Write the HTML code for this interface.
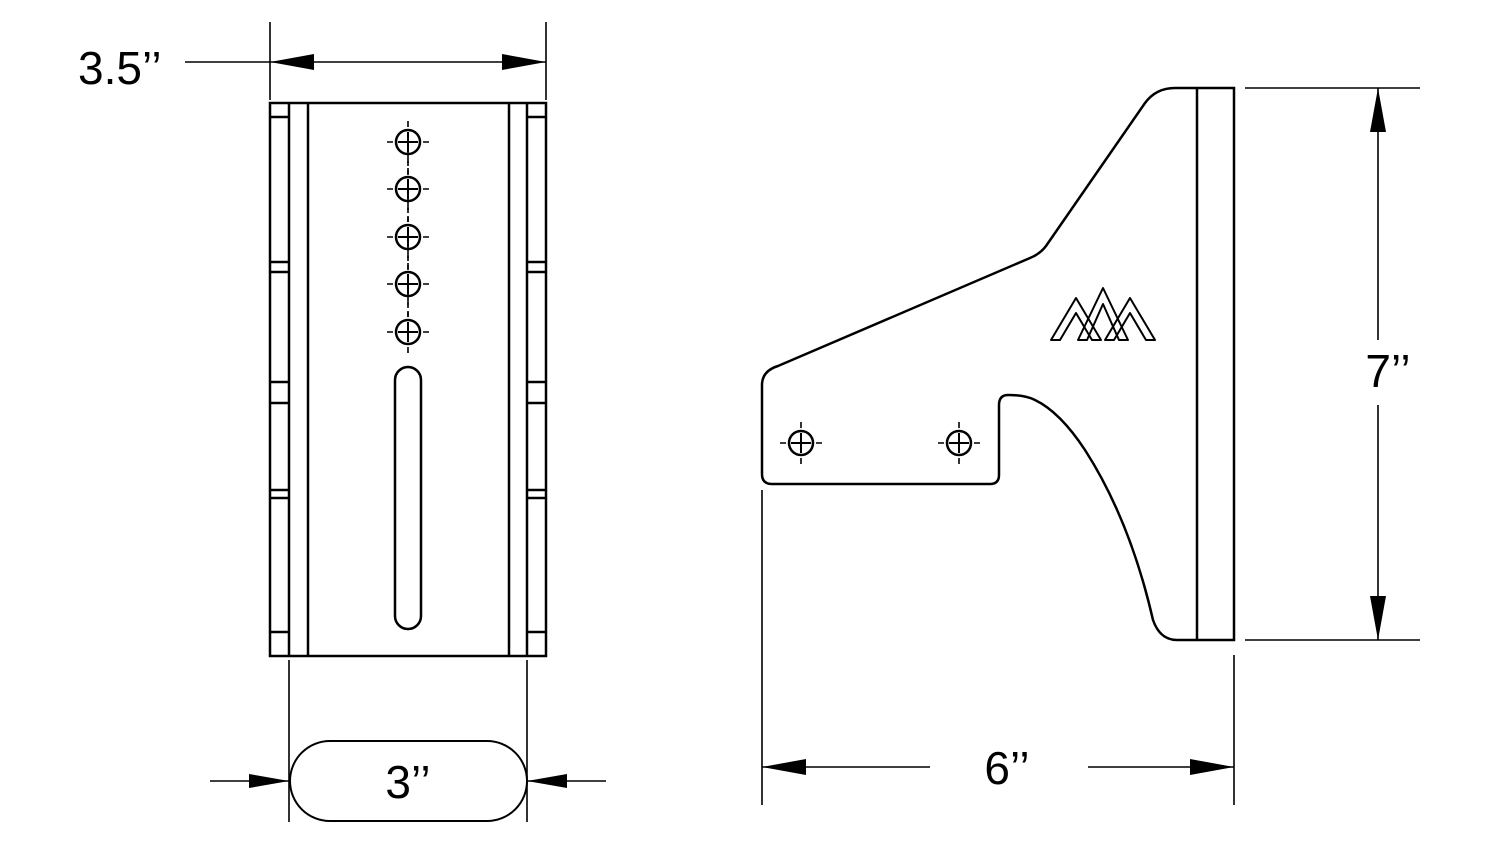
<!DOCTYPE html>
<html><head><style>
html,body{margin:0;padding:0;background:#fff;}
svg{display:block;}
text{font-family:"Liberation Sans",sans-serif;fill:#000;}
</style></head><body>
<svg width="1500" height="847" viewBox="0 0 1500 847" xmlns="http://www.w3.org/2000/svg">
<defs>
<g id="hole" fill="none" stroke="#000">
<circle r="12" stroke-width="2.5"/>
<path d="M-10 0H10M0 -10V10" stroke-width="2"/>
<path d="M-21 0H-15M15 0H21M0 -21V-15M0 15V21" stroke-width="1.6"/>
</g>
</defs>
<g fill="none" stroke="#000" stroke-width="2.5">
<rect x="270" y="103" width="276" height="553"/>
<path d="M289 103V656M308 103V656M509 103V656M527 103V656"/>
<path d="M270 117H289M270 262H289M270 272H289M270 382H289M270 403H289M270 490H289M270 498H289M270 632H289"/>
<path d="M527 117H546M527 262H546M527 272H546M527 382H546M527 403H546M527 490H546M527 498H546M527 632H546"/>
<rect x="395" y="367" width="26" height="262" rx="13"/>
<path d="M408 152V178M408 199V226M408 247V273M408 294V321" stroke-width="1.6" stroke-dasharray="5 4"/>
<path d="M762 385 Q762 371 778 366 L1030 258 Q1040 254 1046 246 L1145 103 Q1156 88 1175 88 L1234 88 L1234 640 L1177 640 Q1160 640 1153 620 Q1130 520 1085 450 Q1060 412 1035 400 Q1025 395 1008 395 Q999 395 999 405 L999 475 Q999 484 990 484 L772 484 Q762 484 762 474 Z"/>
<path d="M1197 88V640"/>
<g stroke-width="2" stroke-linejoin="round">
<path d="M1051 340 L1076 298 L1101 340 L1092 340 L1076 313 L1060 340 Z"/>
<path d="M1078 340 L1103 288 L1128 340 L1119 340 L1103 304 L1087 340 Z"/>
<path d="M1105 340 L1130 298 L1155 340 L1146 340 L1130 313 L1114 340 Z"/>
</g>
<g stroke-width="1.6">
<path d="M270 22V100M546 22V100M185 62H546"/>
<path d="M289 660V822M527 660V822M210 781H289M527 781H606"/>
<path d="M762 490V805M1234 655V805M762 767H930M1088 767H1234"/>
<path d="M1245 88H1420M1245 640H1420M1378 88V340M1378 405V640"/>
</g>
<rect x="290" y="741" width="237" height="80" rx="40" stroke-width="2"/>
</g>
<g fill="#000">
<path d="M270 62l44 -8v16z M546 62l-44 -8v16z"/>
<path d="M289 781l-40 -7v14z M527 781l40 -7v14z"/>
<path d="M762 767l44 -8v16z M1234 767l-44 -8v16z"/>
<path d="M1378 88l-8 44h16z M1378 640l-8 -44h16z"/>
</g>
<use href="#hole" x="408" y="142"/>
<use href="#hole" x="408" y="189"/>
<use href="#hole" x="408" y="237"/>
<use href="#hole" x="408" y="284"/>
<use href="#hole" x="408" y="332"/>
<use href="#hole" x="801" y="443"/>
<use href="#hole" x="959" y="443"/>
<text x="78" y="84" font-size="46">3.5’’</text>
<text x="408" y="798" font-size="46" text-anchor="middle">3’’</text>
<text x="1007" y="784" font-size="46" text-anchor="middle">6’’</text>
<text x="1388" y="387" font-size="46" text-anchor="middle">7’’</text>
</svg>
</body></html>
